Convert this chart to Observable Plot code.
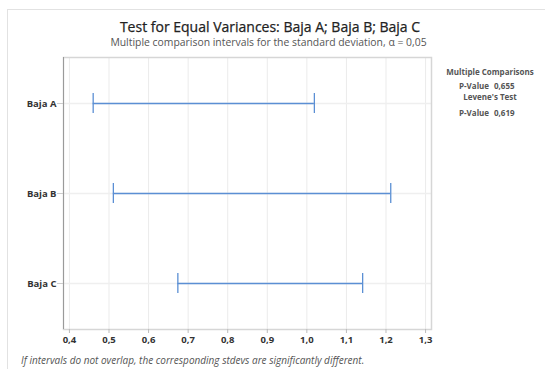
<!DOCTYPE html>
<html>
<head>
<meta charset="utf-8">
<script src="https://cdn.jsdelivr.net/npm/d3@7"></script>
<script src="https://cdn.jsdelivr.net/npm/@observablehq/plot@0.6"></script>
<style>
  html, body { margin: 0; padding: 0; background: #fff; }
  body { width: 545px; height: 369px; position: relative; overflow: hidden; font-family: "Open Sans", "Noto Sans", sans-serif; }
  #frame { position: absolute; left: 7px; top: 9px; width: 600px; height: 400px; border-top: 1px solid #e2e2e2; border-left: 1px solid #e2e2e2; }
  #chart { position: absolute; left: 0; top: 0; }
  #chart svg text { font-weight: bold !important; }
  .title { position: absolute; left: 0; width: 540px; text-align: center; top: 17px; font-size: 14px; font-weight: normal; color: #222; white-space: nowrap; -webkit-text-stroke: 0.25px #222; }
  .subtitle { position: absolute; left: 0; width: 537px; text-align: center; top: 35px; font-size: 10.4px; color: #555; white-space: nowrap; }
  .side { position: absolute; left: 440px; top: 0; width: 102px; font-size: 8px; line-height: 11px; color: #555; font-weight: bold; }
  .side div { position: absolute; white-space: nowrap; }
  .foot { position: absolute; left: 21px; top: 353px; font-size: 10px; font-style: italic; color: #555; white-space: nowrap; }
</style>
</head>
<body>
<div id="frame"></div>
<div id="chart"></div>
<div class="title">Test for Equal Variances: Baja A; Baja B; Baja C</div>
<div class="subtitle">Multiple comparison intervals for the standard deviation, α = 0,05</div>
<div class="side" id="side"></div>
<div class="foot">If intervals do not overlap, the corresponding stdevs are significantly different.</div>
<script>
const categories = ["Baja A", "Baja B", "Baja C"];
const lower = [0.46, 0.511, 0.674];
const upper = [1.019, 1.212, 1.141];
const xTicks = [0.4, 0.5, 0.6, 0.7, 0.8, 0.9, 1.0, 1.1, 1.2, 1.3];
const sideLabels = ["Multiple Comparisons", "P-Value", "0,655", "Levene's Test", "P-Value", "0,619"];

const data = categories.map((c, i) => ({cat: c, lo: lower[i], hi: upper[i]}));
const fmt = d => d.toFixed(1).replace(".", ",");
const blue = "#5b8fd4";

const plot = Plot.plot({
  width: 545,
  height: 369,
  marginLeft: 63,
  marginRight: 114,
  marginTop: 57,
  marginBottom: 40,
  style: {fontFamily: "'Open Sans', 'Noto Sans', sans-serif", background: "transparent"},
  x: {domain: [0.385, 1.315]},
  y: {type: "band", domain: categories, padding: 0},
  marks: [
    Plot.ruleX(xTicks, {stroke: "#ebebeb", strokeWidth: 1}),
    Plot.ruleY(categories, {y: d => d, stroke: "#efefef", strokeWidth: 1.5}),
    Plot.frame({stroke: "#d6d6d6", strokeWidth: 1.5}),
    Plot.ruleX([0.385], {stroke: "#9a9a9a", strokeWidth: 1}),
    Plot.axisX({ticks: xTicks, tickFormat: fmt, tickSize: 4, tickPadding: 3, fontSize: 9.5, color: "#333", stroke: "#bbb", label: null}),
    Plot.axisY({tickSize: 6, tickPadding: 1, fontSize: 9.5, color: "#333", stroke: "#ccc", label: null}),
    Plot.ruleY(data, {y: "cat", x1: "lo", x2: "hi", stroke: blue, strokeWidth: 1.3}),
    Plot.tickX(data, {x: "lo", y: "cat", stroke: blue, strokeWidth: 1.3, insetTop: 35, insetBottom: 35}),
    Plot.tickX(data, {x: "hi", y: "cat", stroke: blue, strokeWidth: 1.3, insetTop: 35, insetBottom: 35})
  ]
});
document.getElementById("chart").appendChild(plot);

const side = document.getElementById("side");
const place = [
  {t: sideLabels[0], x: 50, y: 66, c: true},
  {t: sideLabels[1], x: 19, y: 79.5},
  {t: sideLabels[2], x: 54, y: 79.5},
  {t: sideLabels[3], x: 50, y: 91, c: true},
  {t: sideLabels[4], x: 19, y: 107},
  {t: sideLabels[5], x: 54, y: 107}
];
place.forEach(p => {
  const d = document.createElement("div");
  d.textContent = p.t;
  d.style.top = p.y + "px";
  d.style.left = p.x + "px";
  if (p.c) d.style.transform = "translateX(-50%)";
  side.appendChild(d);
});
</script>
</body>
</html>
